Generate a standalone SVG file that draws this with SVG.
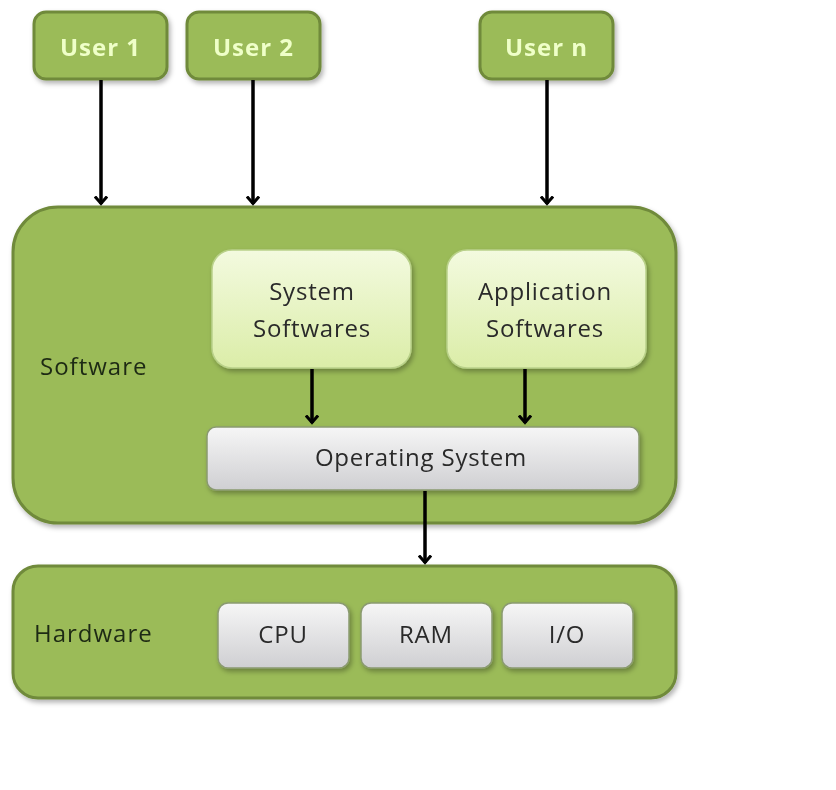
<svg xmlns="http://www.w3.org/2000/svg" width="836" height="790" viewBox="0 0 836 790">
<style>
.grp{fill:#9bbb59;stroke:#6f8a3a;stroke-width:3}
.user{fill:#9bbb59;stroke:#6f8a3a;stroke-width:3}
.soft{fill:url(#lg);stroke:#b9d18a;stroke-width:1.5}
.gray{fill:url(#gg);stroke:#8a9a70;stroke-width:1.5}
.ut{font-family:"Open Sans","Liberation Sans",sans-serif;font-weight:bold;font-size:24px;letter-spacing:1px;fill:#efffc8;text-anchor:middle}
.lt{font-family:"Open Sans","Liberation Sans",sans-serif;font-size:24px;letter-spacing:1px;fill:#1f2a12}
.it{font-family:"Open Sans","Liberation Sans",sans-serif;font-size:24px;letter-spacing:0.8px;fill:#2a2a2a;text-anchor:middle}
.conn line{stroke:#000;stroke-width:3.5;marker-end:url(#ah)}
</style>
<defs>
<linearGradient id="lg" x1="0" y1="0" x2="0" y2="1">
<stop offset="0" stop-color="#f3fadf"/><stop offset="1" stop-color="#dbeda8"/>
</linearGradient>
<linearGradient id="gg" x1="0" y1="0" x2="0" y2="1">
<stop offset="0" stop-color="#f6f6f6"/><stop offset="1" stop-color="#cfcfd2"/>
</linearGradient>
<filter id="sh" x="-10%" y="-10%" width="125%" height="130%">
<feDropShadow dx="2" dy="3" stdDeviation="2.5" flood-color="#000" flood-opacity="0.3"/>
</filter>
<marker id="ah" viewBox="0 0 10 14" refX="8.5" refY="7" markerWidth="10" markerHeight="14" markerUnits="userSpaceOnUse" orient="auto">
<path d="M1,1 L8,7 L1,13" fill="none" stroke="#000" stroke-width="3"/>
</marker>
</defs>
<rect width="836" height="790" fill="#fff"/>
<g id="software" filter="url(#sh)">
<rect class="grp" x="13" y="207" width="663" height="316" rx="45"/>
<text class="lt" x="40" y="375">Software</text>
</g>
<g id="hardware" filter="url(#sh)">
<rect class="grp" x="13" y="566" width="663" height="132" rx="25"/>
<text class="lt" x="34" y="642">Hardware</text>
</g>
<g id="user1" filter="url(#sh)">
<rect class="user" x="34" y="12" width="133" height="67" rx="12"/>
<text class="ut" x="100.5" y="56">User 1</text>
</g>
<g id="user2" filter="url(#sh)">
<rect class="user" x="187" y="12" width="133" height="67" rx="12"/>
<text class="ut" x="253.5" y="56">User 2</text>
</g>
<g id="usern" filter="url(#sh)">
<rect class="user" x="480" y="12" width="133" height="67" rx="12"/>
<text class="ut" x="546.5" y="56">User n</text>
</g>
<g id="system-softwares" filter="url(#sh)">
<rect class="soft" x="212" y="250" width="199" height="118" rx="20"/>
<text class="it" x="312" y="300">System</text>
<text class="it" x="312" y="337">Softwares</text>
</g>
<g id="application-softwares" filter="url(#sh)">
<rect class="soft" x="447" y="250" width="199" height="118" rx="20"/>
<text class="it" x="545" y="300">Application</text>
<text class="it" x="545" y="337">Softwares</text>
</g>
<g id="operating-system" filter="url(#sh)">
<rect class="gray" x="207" y="427" width="432" height="63" rx="9"/>
<text class="it" x="421" y="466">Operating System</text>
</g>
<g id="cpu" filter="url(#sh)">
<rect class="gray" x="218" y="603" width="131" height="65" rx="10"/>
<text class="it" x="283" y="643">CPU</text>
</g>
<g id="ram" filter="url(#sh)">
<rect class="gray" x="361" y="603" width="131" height="65" rx="10"/>
<text class="it" x="426" y="643">RAM</text>
</g>
<g id="io" filter="url(#sh)">
<rect class="gray" x="502" y="603" width="131" height="65" rx="10"/>
<text class="it" x="567" y="643">I/O</text>
</g>
<g id="connectors" class="conn">
<line x1="101" y1="80" x2="101" y2="204"/>
<line x1="253" y1="80" x2="253" y2="204"/>
<line x1="547" y1="80" x2="547" y2="204"/>
<line x1="312" y1="369" x2="312" y2="423"/>
<line x1="525" y1="369" x2="525" y2="423"/>
<line x1="425" y1="491" x2="425" y2="563"/>
</g>
</svg>
